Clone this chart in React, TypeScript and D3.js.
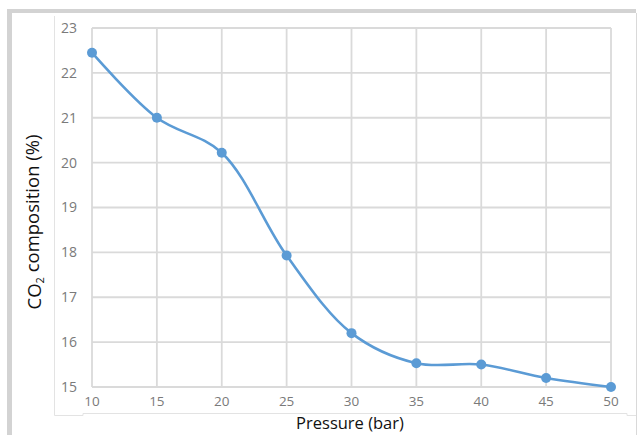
import React from "react";
import * as d3 from "d3";

const pressures = [10, 15, 20, 25, 30, 35, 40, 45, 50];
const co2 = [22.45, 21.0, 20.22, 17.93, 16.2, 15.53, 15.5, 15.2, 15.0];
const xTicks = [10, 15, 20, 25, 30, 35, 40, 45, 50];
const yTicks = [15, 16, 17, 18, 19, 20, 21, 22, 23];

export default function App() {
  const W = 638, H = 435;
  const x = d3.scaleLinear().domain([10, 50]).range([92, 611]);
  const y = d3.scaleLinear().domain([15, 23]).range([387, 28]);
  const data = pressures.map((p, i) => ({ p, v: co2[i] }));
  const line = d3
    .line<{ p: number; v: number }>()
    .x((d) => x(d.p))
    .y((d) => y(d.v))
    .curve(d3.curveCatmullRom.alpha(0.5));
  const font = "'Open Sans', 'Noto Sans', sans-serif";
  return (
    <svg
      width={W}
      height={H}
      style={{ position: "absolute", left: 0, top: 0, background: "#fff" }}
    >
      {/* frame */}
      <rect x={7} y={9} width={629} height={4} fill="#d3d3d3" />
      <rect x={7} y={9} width={5} height={426} fill="#d3d3d3" />
      <line x1={636.5} y1={13} x2={636.5} y2={435} stroke="#d9d9d9" strokeWidth={1} />
      <polyline
        points="54.5,16 54.5,415.5 83,415.5 83,413.5 627,413.5 627,415.5 636,415.5"
        fill="none"
        stroke="#e3e3e3"
        strokeWidth={1}
      />
      {/* grid */}
      {yTicks.map((t) => (
        <line
          key={"gy" + t}
          x1={x(10)}
          x2={x(50)}
          y1={y(t)}
          y2={y(t)}
          stroke="#dadada"
          strokeWidth={1.8}
        />
      ))}
      {xTicks.map((t) => (
        <line
          key={"gx" + t}
          x1={x(t)}
          x2={x(t)}
          y1={y(23)}
          y2={y(15)}
          stroke="#dadada"
          strokeWidth={1.8}
        />
      ))}
      {/* tick labels */}
      {yTicks.map((t) => (
        <text
          key={"ly" + t}
          x={77}
          y={y(t)}
          dy="0.35em"
          textAnchor="end"
          fontFamily={font}
          fontSize={14}
          fill="#7a7a7a"
        >
          {t}
        </text>
      ))}
      {xTicks.map((t) => (
        <text
          key={"lx" + t}
          x={x(t)}
          y={401.5}
          dy="0.35em"
          textAnchor="middle"
          fontFamily={font}
          fontSize={13.5}
          fill="#7a7a7a"
        >
          {t}
        </text>
      ))}
      {/* series */}
      <path d={line(data) || ""} fill="none" stroke="#5b9bd5" strokeWidth={2.6} />
      {data.map((d) => (
        <circle key={d.p} cx={x(d.p)} cy={y(d.v)} r={5} fill="#5b9bd5" />
      ))}
      {/* titles */}
      <text
        x={350}
        y={428.5}
        textAnchor="middle"
        fontFamily={font}
        fontSize={16.5}
        fill="#111"
      >
        Pressure (bar)
      </text>
      <text
        transform="translate(34.5,222) rotate(-90)"
        dy="0.35em"
        textAnchor="middle"
        fontFamily={font}
        fontSize={18.5}
        fill="#111"
      >
        CO
        <tspan fontSize={11} dy="0.3em">2</tspan>
        <tspan dy="-0.3em"> composition (%)</tspan>
      </text>
    </svg>
  );
}
